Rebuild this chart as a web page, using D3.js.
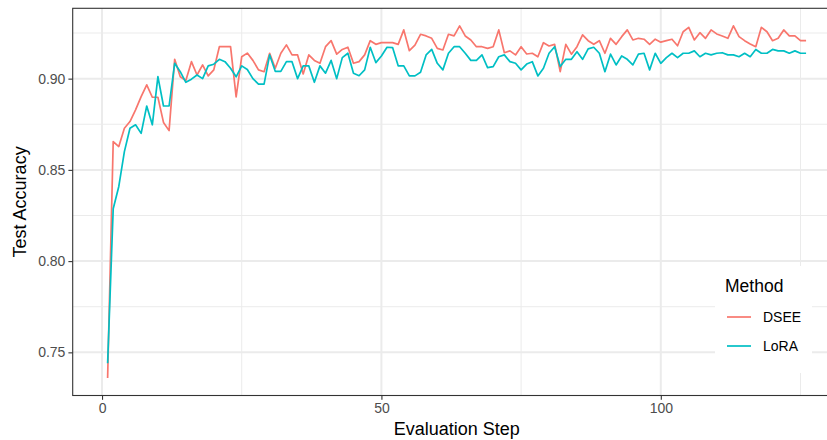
<!DOCTYPE html>
<html>
<head>
<meta charset="utf-8">
<script src="https://cdn.jsdelivr.net/npm/d3@7"></script>
<style>
  html, body { margin: 0; padding: 0; background: #fff; }
  svg { display: block; font-family: "Liberation Sans", Arial, Helvetica, sans-serif; }
</style>
</head>
<body>
<svg id="chart" width="827" height="440"></svg>
<script>
// ---------------- data ----------------
const methods = ["DSEE", "LoRA"];
const colors = ["#F8766D", "#00BFC4"];
const dseeValues = [
  0.736, 0.8655, 0.8628, 0.8728, 0.8765, 0.8829, 0.8901, 0.8966, 0.8898, 0.8898,
  0.876, 0.8715, 0.9106, 0.901, 0.899, 0.9093, 0.902, 0.9075, 0.9015, 0.9048,
  0.9175, 0.9175, 0.9175, 0.890, 0.912, 0.914, 0.910, 0.9048, 0.9038, 0.9139,
  0.9057, 0.9139, 0.9185, 0.913, 0.913, 0.9026, 0.913, 0.910, 0.9084, 0.9175,
  0.9208, 0.9134, 0.916, 0.9172, 0.9084, 0.9093, 0.913, 0.9208, 0.9188, 0.9197,
  0.9197, 0.9197, 0.9188, 0.9267, 0.9153, 0.9184, 0.9243, 0.9234, 0.9221, 0.9166,
  0.9157, 0.9243, 0.9234, 0.9289, 0.9234, 0.9212, 0.9175, 0.9175, 0.9166, 0.9175,
  0.9267, 0.9142, 0.9152, 0.913, 0.9175, 0.9135, 0.9139, 0.912, 0.9197, 0.9179,
  0.9188, 0.9038, 0.9188, 0.9134, 0.9175, 0.924, 0.9208, 0.9188, 0.9208, 0.9139,
  0.9221, 0.9188, 0.923, 0.9267, 0.9212, 0.9221, 0.9216, 0.9188, 0.9216, 0.920,
  0.9208, 0.9216, 0.918, 0.9257, 0.9281, 0.9212, 0.9252, 0.9221, 0.9267, 0.9245,
  0.9234, 0.9221, 0.9289, 0.923, 0.9208, 0.919, 0.9175, 0.9281, 0.9257, 0.9208,
  0.9221, 0.9267, 0.9234, 0.9234, 0.9208, 0.9208
];
const loraValues = [
  0.744, 0.8287, 0.8409, 0.860, 0.8728, 0.8747, 0.870, 0.885, 0.8747, 0.9011,
  0.885, 0.885, 0.9084, 0.9038, 0.898, 0.8997, 0.902, 0.900, 0.907, 0.9079,
  0.9106, 0.9093, 0.9057, 0.901, 0.907, 0.905, 0.900, 0.897, 0.897, 0.913,
  0.904, 0.904, 0.9093, 0.9093, 0.900, 0.907, 0.907, 0.898, 0.907, 0.903,
  0.910, 0.900, 0.9115, 0.9139, 0.903, 0.9016, 0.9048, 0.9172, 0.9088, 0.9124,
  0.9172, 0.917, 0.907, 0.907, 0.9015, 0.9015, 0.9035, 0.913, 0.916, 0.9084,
  0.9048, 0.9139, 0.9175, 0.9175, 0.9139, 0.910, 0.910, 0.913, 0.906, 0.9066,
  0.912, 0.913, 0.9093, 0.9084, 0.9048, 0.908, 0.9093, 0.9015, 0.9057, 0.9139,
  0.9175, 0.9066, 0.9106, 0.9106, 0.9148, 0.9106, 0.9163, 0.9172, 0.9139, 0.9038,
  0.9134, 0.9075, 0.9124, 0.9106, 0.9075, 0.9134, 0.9139, 0.9048, 0.9139, 0.9084,
  0.9115, 0.9139, 0.9115, 0.9139, 0.9139, 0.9152, 0.912, 0.9139, 0.913, 0.9139,
  0.9142, 0.913, 0.913, 0.912, 0.9139, 0.912, 0.916, 0.9139, 0.9139, 0.916,
  0.9152, 0.9152, 0.9139, 0.9152, 0.9139, 0.9139
];
const steps = d3.range(1, dseeValues.length + 1);
const xTicks = [0, 50, 100];
const xMinorTicks = [25, 75, 125];
const yTicks = [0.75, 0.80, 0.85, 0.90];
const yMinorTicks = [0.775, 0.825, 0.875, 0.925];
const xTitle = "Evaluation Step";
const yTitle = "Test Accuracy";
const legendTitle = "Method";

// ---------------- layout ----------------
const panel = { left: 72.7, top: 8.3, right: 841, bottom: 395.5 };
const svg = d3.select("#chart");

const series = [
  { name: methods[0], color: colors[0], values: dseeValues },
  { name: methods[1], color: colors[1], values: loraValues }
];

const allVals = dseeValues.concat(loraValues);
const [yMin, yMax] = d3.extent(allVals);
const yPad = (yMax - yMin) * 0.05;
const [xMin, xMax] = d3.extent(steps);
const xPad = (xMax - xMin) * 0.05;

const x = d3.scaleLinear().domain([xMin - xPad, xMax + xPad]).range([panel.left, panel.right]);
const y = d3.scaleLinear().domain([yMin - yPad, yMax + yPad]).range([panel.bottom, panel.top]);

// panel background
svg.append("rect").attr("x", panel.left).attr("y", panel.top)
  .attr("width", panel.right - panel.left).attr("height", panel.bottom - panel.top)
  .attr("fill", "#fff");

const grid = svg.append("g");
// minor grid
grid.selectAll(".vminor").data(xMinorTicks).join("line")
  .attr("x1", d => x(d)).attr("x2", d => x(d)).attr("y1", panel.top).attr("y2", panel.bottom)
  .attr("stroke", "#EBEBEB").attr("stroke-width", 1);
grid.selectAll(".hminor").data(yMinorTicks).join("line")
  .attr("x1", panel.left).attr("x2", panel.right).attr("y1", d => y(d)).attr("y2", d => y(d))
  .attr("stroke", "#EBEBEB").attr("stroke-width", 1);
// major grid
grid.selectAll(".vmajor").data(xTicks).join("line")
  .attr("x1", d => x(d)).attr("x2", d => x(d)).attr("y1", panel.top).attr("y2", panel.bottom)
  .attr("stroke", "#EBEBEB").attr("stroke-width", 2);
grid.selectAll(".hmajor").data(yTicks).join("line")
  .attr("x1", panel.left).attr("x2", panel.right).attr("y1", d => y(d)).attr("y2", d => y(d))
  .attr("stroke", "#EBEBEB").attr("stroke-width", 2);

// lines
const line = d3.line().x((d, i) => x(steps[i])).y(d => y(d));
svg.append("g").selectAll("path").data(series).join("path")
  .attr("d", d => line(d.values))
  .attr("fill", "none")
  .attr("stroke", d => d.color)
  .attr("stroke-width", 1.7)
  .attr("stroke-linejoin", "round");

// panel border
svg.append("rect").attr("x", panel.left).attr("y", panel.top)
  .attr("width", panel.right - panel.left).attr("height", panel.bottom - panel.top)
  .attr("fill", "none").attr("stroke", "#333333").attr("stroke-width", 1.1);

// axes
const xAxis = d3.axisBottom(x).tickValues(xTicks).tickSize(4.3).tickPadding(3).tickFormat(d3.format("d"));
const yAxis = d3.axisLeft(y).tickValues(yTicks).tickSize(4.3).tickPadding(3).tickFormat(d3.format(".2f"));

const gx = svg.append("g").attr("transform", `translate(0,${panel.bottom})`).call(xAxis);
const gy = svg.append("g").attr("transform", `translate(${panel.left},0)`).call(yAxis);
[gx, gy].forEach(g => {
  g.select(".domain").remove();
  g.selectAll(".tick line").attr("stroke", "#333333").attr("stroke-width", 1.1);
  g.selectAll(".tick text").attr("fill", "#4D4D4D").attr("font-size", 14)
    .attr("font-family", "Liberation Sans, Arial, sans-serif");
});

// titles
svg.append("text").attr("x", (panel.left + panel.right) / 2).attr("y", 435)
  .attr("text-anchor", "middle").attr("font-size", 18).attr("fill", "#000").text(xTitle);
svg.append("text").attr("transform", `translate(26,${(panel.top + panel.bottom) / 2}) rotate(-90)`)
  .attr("text-anchor", "middle").attr("font-size", 18).attr("fill", "#000").text(yTitle);

// legend
const lg = svg.append("g");
lg.append("rect").attr("x", 715).attr("y", 266).attr("width", 97).attr("height", 107).attr("fill", "#fff");
lg.append("text").attr("x", 725).attr("y", 292).attr("font-size", 17.5).attr("fill", "#000").text(legendTitle);
const items = lg.selectAll(".item").data(series).join("g")
  .attr("transform", (d, i) => `translate(0,${317 + i * 29})`);
items.append("line").attr("x1", 727).attr("x2", 751).attr("y1", 0).attr("y2", 0)
  .attr("stroke", d => d.color).attr("stroke-width", 1.7);
items.append("text").attr("x", 763).attr("y", 5).attr("font-size", 14).attr("fill", "#000").text(d => d.name);
</script>
</body>
</html>
